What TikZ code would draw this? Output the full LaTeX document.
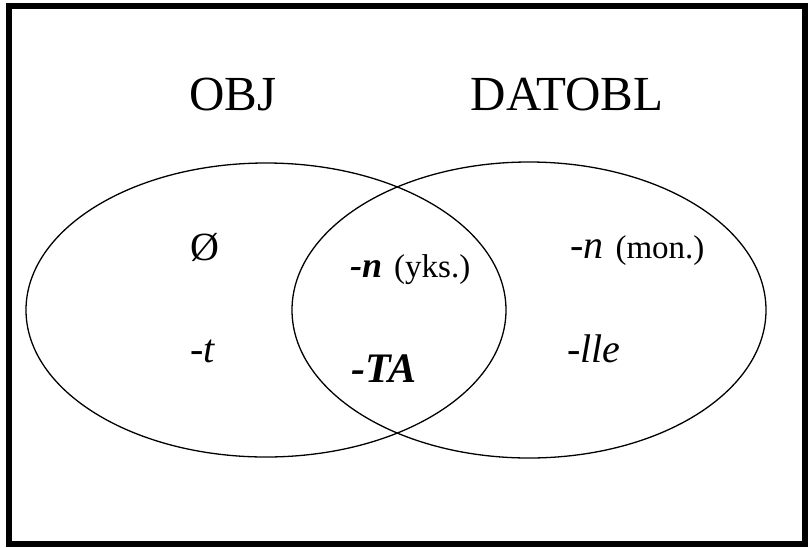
\documentclass[tikz,border=0pt]{standalone}
\usepackage{fontspec}
\setmainfont{Liberation Serif}
\usetikzlibrary{positioning}
\newcommand{\fsz}[1]{\fontsize{#1}{#1}\selectfont}
\newcommand{\glossfont}{\fsz{33}}

\begin{document}
\begin{tikzpicture}[x=1pt,y=-1pt,
  setname/.style={font=\fsz{49}, anchor=base, inner sep=0pt},
  suffix/.style={font=\fsz{40}, anchor=base west, inner sep=0pt}]
\useasboundingbox (0,0) rectangle (809,547);
% frame
\draw[line width=6pt] (8.5,6) rectangle (805,544);
% the two sets
\draw[line width=1.3pt] (266,310) ellipse [x radius=240, y radius=147];
\draw[line width=1.3pt] (529,310) ellipse [x radius=237, y radius=148];
% set names
\node[setname] (obj) at (233,110) {OBJ};
\node[setname] (datobl) at (567,110) {DATOBL};
% markers
\node[suffix] (zero) at (190,260) {Ø};
\node[suffix] (tt) at (190,362) {\itshape -t};
\node[suffix] (nyks) at (350,277) {\textbf{\textit{\fsz{36}-n}}\hspace{0.3em}{\glossfont(yks.)}};
\node[suffix, font=\fsz{42}] (ta) at (351,382) {\textbf{\textit{-TA}}};
\node[suffix] (nmon) at (570,258) {\textit{-n}\hspace{0.3em}{\glossfont(mon.)}};
\node[suffix] (lle) at (567,362) {\itshape -lle};
\end{tikzpicture}
\end{document}
